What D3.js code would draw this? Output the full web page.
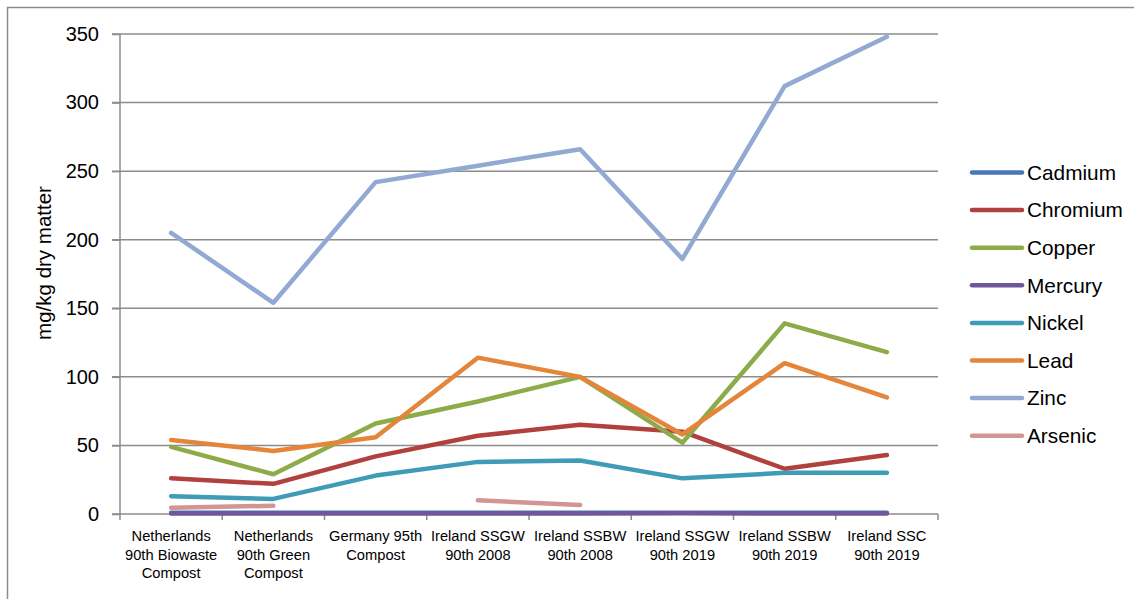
<!DOCTYPE html>
<html>
<head>
<meta charset="utf-8">
<script src="https://cdn.jsdelivr.net/npm/d3@7"></script>
<style>
  body { margin: 0; background: #fff; }
  svg { display: block; font-family: "Liberation Sans", Arial, sans-serif; }
</style>
</head>
<body>
<svg id="chart" width="1134" height="599"></svg>
<script>
// categories along the x axis (label lines)
var categories = [
    ["Netherlands", "90th Biowaste", "Compost"],
    ["Netherlands", "90th Green", "Compost"],
    ["Germany 95th", "Compost"],
    ["Ireland SSGW", "90th 2008"],
    ["Ireland SSBW", "90th 2008"],
    ["Ireland SSGW", "90th 2019"],
    ["Ireland SSBW", "90th 2019"],
    ["Ireland SSC", "90th 2019"]
];

var seriesNames = ["Cadmium", "Chromium", "Copper", "Mercury", "Nickel", "Lead", "Zinc", "Arsenic"];
var seriesColors = ["#4677b8", "#b0413e", "#8cac4a", "#70569a", "#3f9cb6", "#e4853a", "#92aad3", "#d39495"];

// values, mg/kg dry matter (null = no value)
var cadmium  = [1, 1, 1, 1, 1, 1, 1, 1];
var chromium = [26, 22, 42, 57, 65, 60, 33, 43];
var copper   = [49, 29, 66, 82, 100, 52, 139, 118];
var mercury  = [0.4, 0.4, 0.4, 0.4, 0.4, 0.5, 0.4, 0.4];
var nickel   = [13, 11, 28, 38, 39, 26, 30, 30];
var lead     = [54, 46, 56, 114, 100, 58, 110, 85];
var zinc     = [205, 154, 242, 254, 266, 186, 312, 348];
var arsenic  = [4.5, 6, null, 10, 6.5, null, null, null];

var seriesValues = [cadmium, chromium, copper, mercury, nickel, lead, zinc, arsenic];

var yTicks = [0, 50, 100, 150, 200, 250, 300, 350];

// dimensions of the plot area
var margin = {top: 34, left: 120},
    width = 818,
    height = 480;

var svg = d3.select("#chart");

// outer frame
svg.append("rect")
    .attr("x", 7.5).attr("y", 7.5)
    .attr("width", 1140).attr("height", 610)
    .attr("fill", "none")
    .attr("stroke", "#8c8c8c")
    .attr("stroke-width", 1.5);

var g = svg.append("g")
    .attr("transform", "translate(" + margin.left + "," + margin.top + ")");

// scales
var x = d3.scaleBand()
    .domain(d3.range(categories.length))
    .range([0, width]);
var y = d3.scaleLinear().domain([0, 350]).range([height, 0]);

// gridlines
g.append("g")
    .selectAll("line")
    .data(yTicks.slice(1))
    .enter().append("line")
    .attr("x1", -8).attr("x2", width)
    .attr("y1", function (d) { return y(d); })
    .attr("y2", function (d) { return y(d); })
    .attr("stroke", "#8c8c8c")
    .attr("stroke-width", 1.5);

// y axis
var yAxis = g.append("g")
    .call(d3.axisLeft(y).tickValues(yTicks).tickSize(8).tickPadding(13));
yAxis.select(".domain").remove();
yAxis.selectAll(".tick line").attr("stroke", "#8c8c8c").attr("stroke-width", 1.5);
yAxis.selectAll(".tick text")
    .attr("font-size", 20)
    .attr("font-family", "Liberation Sans, Arial, sans-serif")
    .attr("fill", "#000");
g.append("line")
    .attr("x1", 0).attr("x2", 0)
    .attr("y1", 0).attr("y2", height)
    .attr("stroke", "#8c8c8c").attr("stroke-width", 1.5);

// x axis
var xAxis = g.append("g")
    .attr("transform", "translate(0," + height + ")");
xAxis.append("line")
    .attr("x1", -8).attr("x2", width)
    .attr("stroke", "#8c8c8c").attr("stroke-width", 1.5);
xAxis.selectAll(".xtick")
    .data(d3.range(categories.length + 1))
    .enter().append("line")
    .attr("class", "xtick")
    .attr("x1", function (d) { return d * x.bandwidth(); })
    .attr("x2", function (d) { return d * x.bandwidth(); })
    .attr("y1", 0).attr("y2", 6)
    .attr("stroke", "#8c8c8c").attr("stroke-width", 1.5);

var labels = xAxis.selectAll(".xlabel")
    .data(categories)
    .enter().append("text")
    .attr("class", "xlabel")
    .attr("text-anchor", "middle")
    .attr("font-size", 14.7)
    .attr("fill", "#000")
    .attr("transform", function (d, i) {
        return "translate(" + (x(i) + x.bandwidth() / 2) + ",27)";
    });
labels.selectAll("tspan")
    .data(function (d) { return d; })
    .enter().append("tspan")
    .attr("x", 0)
    .attr("dy", function (d, i) { return i === 0 ? 0 : 18.7; })
    .text(function (d) { return d; });

// y axis label
svg.append("text")
    .attr("transform", "translate(51,263) rotate(-90)")
    .attr("text-anchor", "middle")
    .attr("font-size", 20.5)
    .attr("fill", "#000")
    .text("mg/kg dry matter");

// lines
var line = d3.line()
    .defined(function (d) { return d !== null; })
    .x(function (d, i) { return x(i) + x.bandwidth() / 2; })
    .y(function (d) { return y(d); });

g.append("g")
    .selectAll("path")
    .data(seriesValues)
    .enter().append("path")
    .attr("d", line)
    .attr("fill", "none")
    .attr("stroke", function (d, i) { return seriesColors[i]; })
    .attr("stroke-width", 4.5)
    .attr("stroke-linecap", "round")
    .attr("stroke-linejoin", "round");

// legend
var legend = svg.append("g")
    .attr("transform", "translate(972,172.5)");
var items = legend.selectAll("g")
    .data(seriesNames)
    .enter().append("g")
    .attr("transform", function (d, i) { return "translate(0," + (i * 37.6) + ")"; });
items.append("line")
    .attr("x1", 0).attr("x2", 50)
    .attr("stroke", function (d, i) { return seriesColors[i]; })
    .attr("stroke-width", 4.5)
    .attr("stroke-linecap", "round");
items.append("text")
    .attr("x", 55)
    .attr("dy", "0.35em")
    .attr("font-size", 20.8)
    .attr("fill", "#000")
    .text(function (d) { return d; });
</script>
</body>
</html>
